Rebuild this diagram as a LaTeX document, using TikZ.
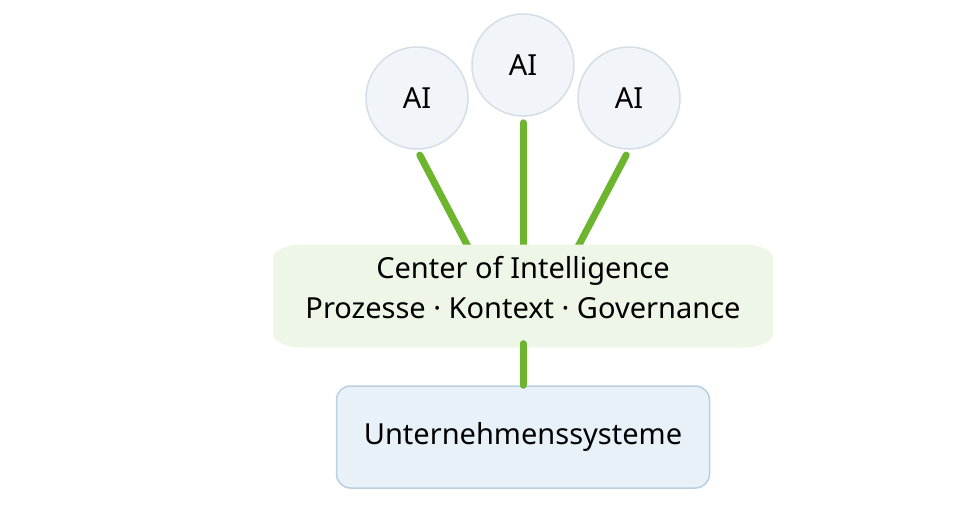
\documentclass[tikz,border=0pt]{standalone}
\usepackage{fontspec}
\setmainfont{Noto Sans}
\usepackage{tikz}
\usetikzlibrary{calc, backgrounds}

\definecolor{aifill}{HTML}{F1F5F9}
\definecolor{ailine}{HTML}{D4DEE7}
\definecolor{coifill}{HTML}{EEF6E7}
\definecolor{sysfill}{HTML}{E8F1F8}
\definecolor{sysline}{HTML}{B8CFE0}
\definecolor{linkgreen}{HTML}{6DB42F}

\begin{document}
\begin{tikzpicture}[
    x = 1pt, y = -1pt,
    every node/.style = {font = \fontsize{29}{40}\selectfont, align = center},
    aicircle/.style = {circle, draw = ailine, fill = aifill, line width = 1.5pt,
      minimum size = 102pt, inner sep = 0pt},
    coibox/.style = {minimum width = 500pt, minimum height = 103pt, inner sep = 0pt,
      text depth = 18pt,
      path picture = {
        \fill[coifill]
          ([xshift=30pt]path picture bounding box.north west)
          -- ([xshift=-30pt]path picture bounding box.north east)
          arc[start angle=90, end angle=0, x radius=30pt, y radius=13pt]
          -- ([yshift=13pt]path picture bounding box.south east)
          arc[start angle=0, end angle=-90, x radius=30pt, y radius=13pt]
          -- ([xshift=30pt]path picture bounding box.south west)
          arc[start angle=270, end angle=180, x radius=30pt, y radius=13pt]
          -- ([yshift=-13pt]path picture bounding box.north west)
          arc[start angle=180, end angle=90, x radius=30pt, y radius=13pt]
          -- cycle;
      }},
    sysbox/.style = {rectangle, rounded corners = 14pt, draw = sysline, fill = sysfill,
      line width = 1.5pt, minimum width = 373pt, minimum height = 102pt},
    link/.style = {draw = linkgreen, line width = 7pt, line cap = round}
  ]
  \useasboundingbox (0,0) rectangle (970,525);

  % agents
  \node[aicircle] (ai1) at (417,98) {AI};
  \node[aicircle] (ai2) at (523,65) {AI};
  \node[aicircle] (ai3) at (629,98) {AI};

  % layers
  \node[coibox] (coi) at (523,296)
    {Center of Intelligence\\Prozesse · Kontext · Governance};
  \node[sysbox] (sys) at (523,437) {Unternehmenssysteme};

  % connectors
  \begin{scope}[on background layer]
    \draw[link, shorten <= 6pt] (ai1.south) -- ([xshift=-51pt, yshift=-10pt]coi.north);
    \draw[link, shorten <= 6pt] (ai2.south) -- ([yshift=-10pt]coi.north);
    \draw[link, shorten <= 6pt] (ai3.south) -- ([xshift=51pt, yshift=-10pt]coi.north);
  \end{scope}
  \draw[link] ([yshift=4pt]coi.south) -- (sys.north);

\end{tikzpicture}
\end{document}
